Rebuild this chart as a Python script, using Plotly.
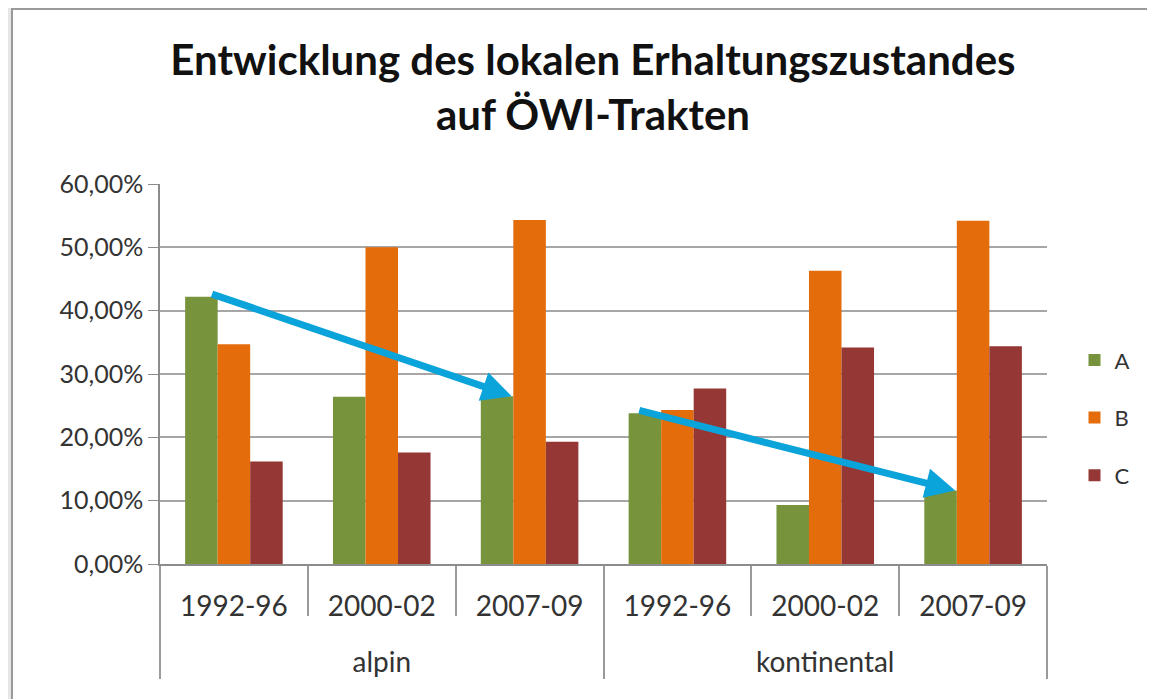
import plotly.graph_objs as go

regions = ["<br>alpin"] * 3 + ["<br>kontinental"] * 3
periods = ["1992-96", "2000-02", "2007-09"] * 2
series = ["A", "B", "C"]
values_a = [0.422, 0.264, 0.265, 0.238, 0.093, 0.116]
values_b = [0.347, 0.500, 0.543, 0.243, 0.463, 0.542]
values_c = [0.162, 0.176, 0.193, 0.277, 0.342, 0.344]
colors = ["#77933c", "#e46c0a", "#953735"]
title_text = "Entwicklung des lokalen Erhaltungszustandes<br>auf ÖWI-Trakten"

# page body has an 8px margin, so the figure is a bit smaller than the window
W, H = 1147, 691
ml, mr, mt, mb = 152, 108, 176, 135
bargap = 0.34

fig = go.Figure()
for name, vals, col in zip(series, [values_a, values_b, values_c], colors):
    fig.add_trace(go.Bar(x=[regions, periods], y=vals, name=name, marker_color=col,
                         marker_line_width=0, legendgroup=name))

# arrows from A bars: trend in each region (drawn on an overlay linear axis)
bw = (1 - bargap) / 3
off_a = -bw
arrows = [(0, 2, 0.28), (3, 5, -0.22)]  # start bar, end bar, start shift (in bar widths)
for i0, i1, s in arrows:
    fig.add_annotation(x=i1 + off_a + bw * 0.45, y=values_a[i1], ax=i0 + off_a + bw * s, ay=values_a[i0] + 0.005,
                       xref="x2", yref="y", axref="x2", ayref="y", showarrow=True,
                       arrowcolor="#0aa3da", arrowwidth=7, arrowhead=2, arrowsize=0.85, text="")

fig.add_trace(go.Scatter(x=[-0.5, 5.5], y=[0, 0], xaxis="x2", mode="markers",
                         marker=dict(opacity=0), showlegend=False, hoverinfo="skip"))

# frame
px = lambda v: (v - ml) / (W - ml - mr)
py = lambda v: (H - mb - v) / (H - mt - mb)
fig.add_shape(type="rect", xref="paper", yref="paper", x0=px(-10), x1=px(W + 5), y0=py(H + 5), y1=py(-10),
              fillcolor="#e6e6e6", line_width=0, layer="below")
fig.add_shape(type="rect", xref="paper", yref="paper", x0=px(4), x1=px(W + 10), y0=py(H + 10), y1=py(1),
              fillcolor="white", line=dict(color="#9a9a9a", width=2), layer="below")

fig.update_layout(
    width=W, height=H,
    margin=dict(l=ml, r=mr, t=mt, b=mb),
    paper_bgcolor="white", plot_bgcolor="rgba(0,0,0,0)",
    separators=",.",
    barmode="group", bargap=bargap, bargroupgap=0,
    font=dict(family="Lato", size=22, color="#333333"),
    title=dict(text=title_text, x=0.51, xanchor="center", y=1 - 67 / H, yanchor="top",
               font=dict(family="Lato", size=42, color="#111111", weight="bold")),
    xaxis=dict(type="multicategory", showline=True, linecolor="#8c8c8c", linewidth=1.5,
               showdividers=True, dividercolor="#9a9a9a", dividerwidth=1.5, automargin=False,
               ticks="outside", tickson="boundaries", ticklen=50, tickcolor="#9a9a9a", tickwidth=1.5,
               ticklabelstandoff=17, tickfont=dict(size=28, color="#333333"), showgrid=False),
    xaxis2=dict(overlaying="x", range=[-0.5, 5.5], visible=False),
    yaxis=dict(range=[0, 0.6], dtick=0.1, tickformat=".2%", showline=True, linecolor="#8c8c8c",
               linewidth=1.5, gridcolor="#a6a6a6", gridwidth=1.5, ticks="outside", ticklen=10,
               tickcolor="#8c8c8c", tickfont=dict(size=25, color="#333333"), zeroline=False,
               automargin=False),
    legend=dict(x=1.031, y=0.385, xanchor="left", yanchor="middle", font=dict(size=22),
                tracegroupgap=26, traceorder="grouped", bgcolor="rgba(0,0,0,0)"),
)

fig.write_html("out.html")
